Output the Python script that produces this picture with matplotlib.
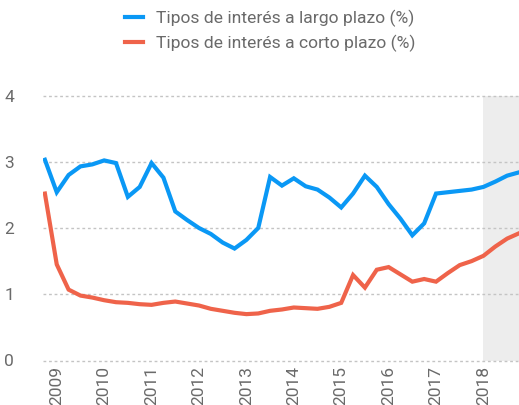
import matplotlib
matplotlib.use("Agg")
import matplotlib.pyplot as plt
import pandas as pd

plt.rcParams['font.family'] = ['Roboto', 'DejaVu Sans']

quarters = pd.period_range("2008Q4", "2018Q4", freq="Q")
largo = [3.03, 2.54, 2.80, 2.93, 2.96, 3.02, 2.98, 2.47, 2.62, 2.98,
         2.76, 2.25, 2.12, 2.00, 1.91, 1.78, 1.69, 1.82, 2.00, 2.77,
         2.64, 2.75, 2.63, 2.58, 2.46, 2.31, 2.52, 2.79, 2.62, 2.36,
         2.14, 1.89, 2.07, 2.52, 2.54, 2.56, 2.58, 2.62, 2.70, 2.79, 2.84]
corto = [2.52, 1.45, 1.07, 0.98, 0.95, 0.91, 0.88, 0.87, 0.85, 0.84,
         0.87, 0.89, 0.86, 0.83, 0.78, 0.75, 0.72, 0.70, 0.71, 0.75,
         0.77, 0.80, 0.79, 0.78, 0.81, 0.87, 1.29, 1.10, 1.37, 1.41,
         1.30, 1.19, 1.23, 1.19, 1.32, 1.44, 1.50, 1.58, 1.72, 1.84, 1.92]
years = [2009, 2010, 2011, 2012, 2013, 2014, 2015, 2016, 2017, 2018]
yticks = [0, 1, 2, 3, 4]
forecast_start = 2018
labels = ["Tipos de interés a largo plazo (%)", "Tipos de interés a corto plazo (%)"]

x = [q.year + (q.quarter - 1) / 4 for q in quarters]

BLUE = "#0a98f5"
RED = "#ef634a"
GRAY = "#6a6a6a"

fig = plt.figure(figsize=(5.19, 4.05), dpi=100)
ax = fig.add_axes([43 / 519, 1 - 360.5 / 405, 476 / 519, (360.5 - 95.5) / 405])

ax.axvspan(forecast_start, x[-1], color="#ededed", lw=0, zorder=0)
for yv in yticks:
    ax.axhline(yv, color="#c4c4c4", lw=1.0, ls=(0, (2, 2)), zorder=1, clip_on=False)

l1, = ax.plot(x, largo, color=BLUE, lw=3.0, solid_joinstyle="miter", zorder=3)
l2, = ax.plot(x, corto, color=RED, lw=3.0, solid_joinstyle="miter", zorder=3)

ax.set_xlim(2008.71, x[-1])
ax.set_ylim(0, 4)
ax.set_yticks(yticks)
ax.set_yticklabels([str(v) for v in yticks], va="center_baseline")
ax.set_xticks(years)
ax.set_xticklabels([str(v) for v in years], rotation=90, va="top", ha="center")
ax.tick_params(axis="both", length=0, colors=GRAY, labelsize=12.5)
ax.tick_params(axis="y", pad=21)
ax.tick_params(axis="x", pad=4)
for s in ax.spines.values():
    s.set_visible(False)

fig.legend([l1, l2], labels, loc="upper left", bbox_to_anchor=(125 / 519, 1 - 10 / 405),
           frameon=False, fontsize=12.6, labelcolor=GRAY, handlelength=1.05,
           handletextpad=0.7, labelspacing=0.42, borderpad=0, borderaxespad=0)

fig.savefig("out.png", dpi=100)
